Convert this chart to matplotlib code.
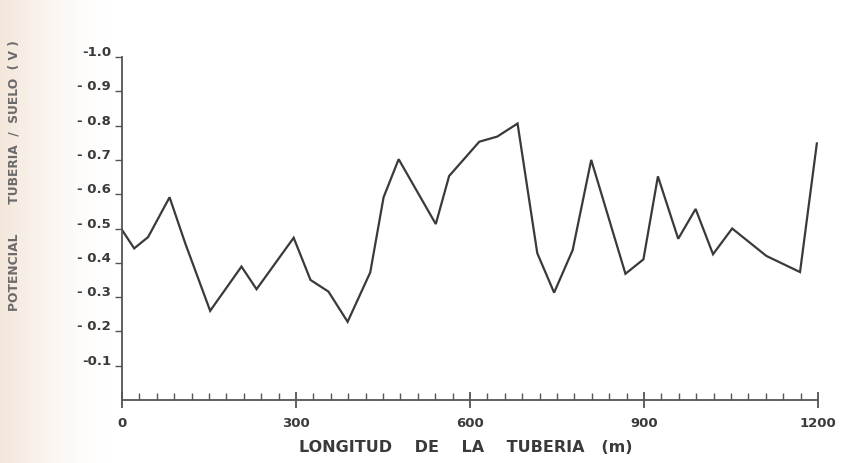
import numpy as np
import matplotlib
matplotlib.use("Agg")
import matplotlib.pyplot as plt
from matplotlib.ticker import FixedLocator, MultipleLocator
import matplotlib.transforms as mtransforms

# Pipe-to-soil potential along the pipeline
distance_m = [0, 21, 45, 82, 109, 152, 206, 232, 296, 325, 356, 389, 428, 451,
              477, 541, 564, 616, 647, 682, 716, 745, 777, 809, 868, 899, 924,
              959, 989, 1019, 1052, 1111, 1169, 1198]
potential_v = [-0.496, -0.442, -0.475, -0.591, -0.457, -0.260, -0.389, -0.323,
               -0.473, -0.350, -0.316, -0.228, -0.372, -0.591, -0.702, -0.513,
               -0.653, -0.753, -0.768, -0.806, -0.428, -0.313, -0.437, -0.700,
               -0.368, -0.410, -0.652, -0.470, -0.557, -0.425, -0.500, -0.420,
               -0.373, -0.748]

x_ticks = [0, 300, 600, 900, 1200]
x_tick_labels = ["0", "300", "600", "900", "1200"]
y_ticks = [-1.0, -0.9, -0.8, -0.7, -0.6, -0.5, -0.4, -0.3, -0.2, -0.1]
y_tick_labels = ["-1.0", "- 0.9", "- 0.8", "- 0.7", "- 0.6", "- 0.5",
                 "- 0.4", "- 0.3", "- 0.2", "-0.1"]

ink = "#3a3a3a"
W, H = 845, 463
fig = plt.figure(figsize=(W / 100, H / 100), dpi=100)
fig.patch.set_facecolor("white")

# warm paper tint along the left margin
bg = fig.add_axes([0, 0, 1, 1], zorder=-5)
cols = np.linspace(0, 1, W)
fade = np.clip(1 - cols / 0.13, 0, 1) ** 1.5
base = np.array([1.0, 1.0, 1.0])
tint = np.array([0.955, 0.905, 0.86])
img = base[None, :] * (1 - fade[:, None]) + tint[None, :] * fade[:, None]
bg.imshow(img[None, :, :].repeat(2, axis=0), aspect="auto", extent=[0, 1, 0, 1])
bg.set_axis_off()

left, right, bottom, top = 122, 818, 400, 57
ax = fig.add_axes([left / W, 1 - bottom / H, (right - left) / W, (bottom - top) / H])
ax.set_facecolor("none")

ax.plot(distance_m, potential_v, color=ink, lw=1.6, solid_joinstyle="miter")

ax.set_xlim(0, 1200)
ax.set_ylim(0, -1.0)

for s in ("top", "right"):
    ax.spines[s].set_visible(False)
for s in ("left", "bottom"):
    ax.spines[s].set_color("#555555")
    ax.spines[s].set_linewidth(1.3)

ax.xaxis.set_major_locator(FixedLocator(x_ticks))
ax.xaxis.set_minor_locator(MultipleLocator(30))
ax.set_xticklabels(x_tick_labels)
ax.tick_params(axis="x", which="major", direction="inout", length=12, width=1.2,
               color="#444444", pad=6, labelsize=9.5, labelcolor=ink)
ax.tick_params(axis="x", which="minor", direction="in", length=5, width=1.0,
               color="#555555")
for lab in ax.get_xticklabels():
    lab.set_fontweight("bold")

ax.yaxis.set_major_locator(FixedLocator(y_ticks))
ax.set_yticklabels(y_tick_labels)
ax.tick_params(axis="y", which="major", direction="out", length=5, width=1.0,
               color="#555555", pad=3, labelsize=9.5, labelcolor=ink)
shift = mtransforms.ScaledTranslation(0, 6 / 100, fig.dpi_scale_trans)
for lab in ax.get_yticklabels():
    lab.set_fontweight("bold")
    lab.set_transform(lab.get_transform() + shift)

fig.text(466 / W, 1 - 447 / H, "LONGITUD    DE    LA    TUBERIA   (m)",
         ha="center", va="center", fontsize=11.5, fontweight="bold",
         color=ink, family="DejaVu Sans")
fig.text(14 / W, 1 - 176 / H, "POTENCIAL       TUBERIA  /  SUELO  ( V )",
         ha="center", va="center", rotation=90, fontsize=8.8, fontweight="bold",
         color="#6a6a6a", family="DejaVu Sans")

fig.savefig("out.png", dpi=100)
